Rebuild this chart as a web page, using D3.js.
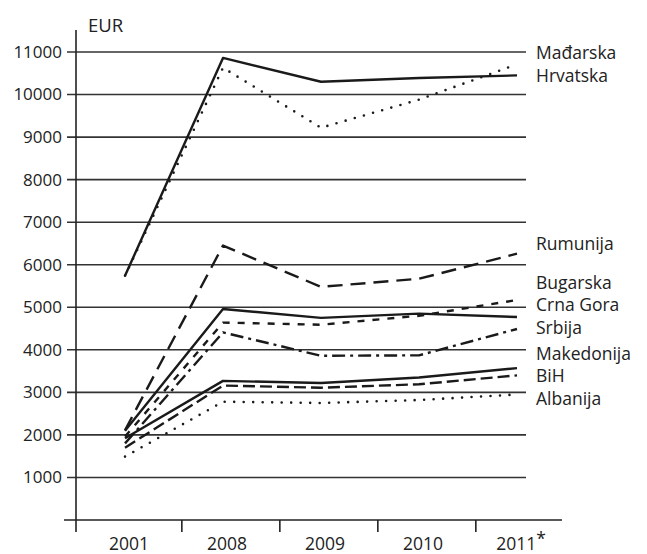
<!DOCTYPE html>
<html>
<head>
<meta charset="utf-8">
<script src="https://cdn.jsdelivr.net/npm/d3@7"></script>
<style>
  body { margin: 0; background: #fff; }
  text { font-family: 'Open Sans', 'Noto Sans', sans-serif; fill: #222; }
</style>
</head>
<body>
<div class="canvas"></div>
<script>
const years = ['2001', '2008', '2009', '2010', '2011*'];
const yTicks = [1000, 2000, 3000, 4000, 5000, 6000, 7000, 8000, 9000, 10000, 11000];

const madarska   = [5740, 10860, 10300, 10390, 10450];
const hrvatska   = [5740, 10630, 9220, 9880, 10710];
const rumunija   = [2110, 6450, 5480, 5670, 6260];
const bugarska   = [1960, 4640, 4590, 4800, 5170];
const crnaGora   = [2100, 4960, 4750, 4850, 4770];
const srbija     = [1800, 4410, 3860, 3870, 4490];
const makedonija = [1920, 3270, 3220, 3350, 3570];
const bih        = [1700, 3160, 3110, 3190, 3400];
const albanija   = [1490, 2780, 2750, 2820, 2950];

const series = [
  { name: 'Mađarska', values: madarska, dash: null, labelY: 59 },
  { name: 'Hrvatska', values: hrvatska, dash: 'dot', labelY: 82 },
  { name: 'Rumunija', values: rumunija, dash: '15,8', labelY: 250 },
  { name: 'Bugarska', values: bugarska, dash: '7,8', labelY: 288.5 },
  { name: 'Crna Gora', values: crnaGora, dash: null, labelY: 311 },
  { name: 'Srbija', values: srbija, dash: '13,5,3,5', labelY: 334 },
  { name: 'Makedonija', values: makedonija, dash: null, labelY: 360 },
  { name: 'BiH', values: bih, dash: '12,5', labelY: 382 },
  { name: 'Albanija', values: albanija, dash: 'dot', labelY: 405 }
];

const width = 647, height = 554;

const svg = d3.select('.canvas')
  .append('svg')
  .attr('width', width)
  .attr('height', height);

const x = d3.scalePoint()
  .domain(years)
  .range([125, 517]);

const y = d3.scaleLinear()
  .domain([0, 11000])
  .range([520, 52]);

// horizontal grid lines with small ticks left of the axis
svg.append('g')
  .selectAll('line')
  .data(yTicks)
  .join('line')
    .attr('x1', 67)
    .attr('x2', 526)
    .attr('y1', d => y(d))
    .attr('y2', d => y(d))
    .attr('stroke', '#333')
    .attr('stroke-width', 1.6);

svg.append('g')
  .selectAll('text')
  .data(yTicks)
  .join('text')
    .attr('x', 62)
    .attr('y', d => y(d))
    .attr('dy', '0.35em')
    .attr('text-anchor', 'end')
    .attr('font-size', 17)
    .text(d => d);

// axes
svg.append('line')
  .attr('x1', 76).attr('x2', 76)
  .attr('y1', 30).attr('y2', 532)
  .attr('stroke', '#222').attr('stroke-width', 1.6);

svg.append('line')
  .attr('x1', 64).attr('x2', 562)
  .attr('y1', y(0)).attr('y2', y(0))
  .attr('stroke', '#222').attr('stroke-width', 1.6);

svg.append('g')
  .selectAll('line')
  .data(years.slice(0, 4))
  .join('line')
    .attr('x1', d => x(d) + x.step() * 0.58)
    .attr('x2', d => x(d) + x.step() * 0.58)
    .attr('y1', y(0))
    .attr('y2', y(0) + 12)
    .attr('stroke', '#222')
    .attr('stroke-width', 1.6);

svg.append('g')
  .selectAll('text')
  .data(years)
  .join('text')
    .attr('x', d => x(d) + 4)
    .attr('y', 550)
    .attr('text-anchor', 'middle')
    .attr('font-size', 17.5)
    .text(d => d.replace('*', ''))
    .append('tspan')
      .attr('dy', -5)
      .text(d => d.includes('*') ? '*' : '');

svg.append('text')
  .attr('x', 88)
  .attr('y', 32)
  .attr('font-size', 18.5)
  .text('EUR');

// lines
const line = d3.line()
  .x((d, i) => x(years[i]))
  .y(d => y(d));

svg.append('g')
  .selectAll('path')
  .data(series)
  .join('path')
    .attr('d', d => line(d.values))
    .attr('fill', 'none')
    .attr('stroke', '#1a1a1a')
    .attr('stroke-width', d => d.dash === 'dot' ? 2.6 : 2.4)
    .attr('stroke-linecap', d => d.dash === 'dot' ? 'round' : 'butt')
    .attr('stroke-linejoin', 'round')
    .attr('stroke-dasharray', d => d.dash === 'dot' ? '0,9.5' : d.dash);

svg.append('g')
  .selectAll('text')
  .data(series)
  .join('text')
    .attr('x', 536)
    .attr('y', d => d.labelY)
    .attr('font-size', 17.5)
    .text(d => d.name);
</script>
</body>
</html>
